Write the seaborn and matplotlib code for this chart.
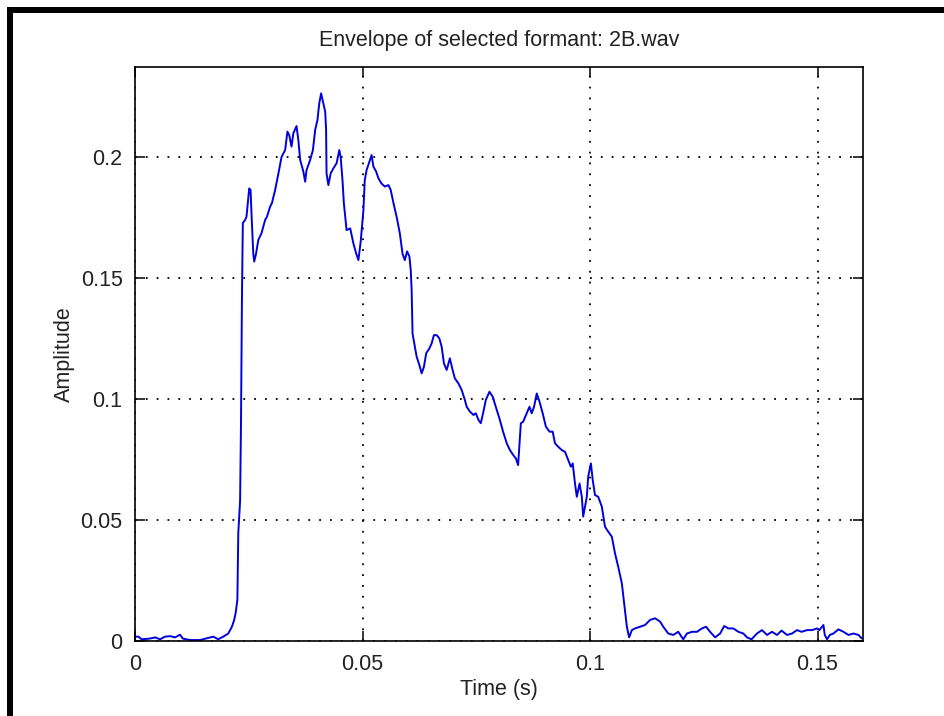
import matplotlib
matplotlib.use("Agg")
import matplotlib.pyplot as plt
from matplotlib.patches import Rectangle
import seaborn as sns
import pandas as pd

# Envelope samples: time (s) and amplitude
time_s = [
    0.0, 0.00073, 0.00147, 0.0033, 0.0044, 0.0055, 0.0066, 0.0077, 0.0088, 0.0099,
    0.0105, 0.0121, 0.0143, 0.0158, 0.0172, 0.0183, 0.0194, 0.0205, 0.0213, 0.0218,
    0.0221, 0.0225, 0.0227, 0.0231, 0.0233, 0.0235, 0.0237, 0.0242, 0.0245, 0.0251,
    0.0254, 0.0256, 0.0260, 0.0262, 0.0266, 0.0271, 0.0278, 0.0286, 0.0290, 0.0297,
    0.0301, 0.0308, 0.0315, 0.0322, 0.0330, 0.0335, 0.0339, 0.0344, 0.0348, 0.0355,
    0.0359, 0.0363, 0.0370, 0.0374, 0.0377, 0.0385, 0.0391, 0.0396, 0.0401, 0.0405,
    0.0409, 0.0413, 0.0418, 0.0420, 0.0421, 0.0425, 0.0430, 0.0436, 0.0443, 0.0449,
    0.0452, 0.0456, 0.0459, 0.0465, 0.0473, 0.0480, 0.0486, 0.0491, 0.0496, 0.0502,
    0.0505, 0.0509, 0.0514, 0.0520, 0.0524, 0.0530, 0.0535, 0.0542, 0.0549, 0.0557,
    0.0562, 0.0568, 0.0575, 0.0582, 0.0588, 0.0593, 0.0598, 0.0603, 0.0606, 0.0608,
    0.0610, 0.0615, 0.0619, 0.0625, 0.0630, 0.0635, 0.0640, 0.0647, 0.0652, 0.0657,
    0.0663, 0.0669, 0.0674, 0.0679, 0.0685, 0.0692, 0.0698, 0.0703, 0.0711, 0.0718,
    0.0725, 0.0729, 0.0736, 0.0744, 0.0749, 0.0755, 0.0760, 0.0765, 0.0771, 0.0779,
    0.0786, 0.0793, 0.0802, 0.0809, 0.0817, 0.0824, 0.0831, 0.0837, 0.0842, 0.0845,
    0.0848, 0.0853, 0.0861, 0.0867, 0.0872, 0.0877, 0.0883, 0.0889, 0.0896, 0.0903,
    0.0911, 0.0918, 0.0923, 0.0930, 0.0938, 0.0945, 0.0952, 0.0958, 0.0962, 0.0967,
    0.0971, 0.0977, 0.0982, 0.0985, 0.0993, 0.0996, 0.1002, 0.1006, 0.1011, 0.1018,
    0.1026, 0.1033, 0.1040, 0.1048, 0.1055, 0.1062, 0.1070, 0.1075, 0.1081, 0.1086,
    0.1092, 0.1099, 0.1110, 0.1121, 0.1132, 0.1143, 0.1154, 0.1161, 0.1172, 0.1183,
    0.1194, 0.1205, 0.1213, 0.1224, 0.1235, 0.1246, 0.1255, 0.1264, 0.1275, 0.1286,
    0.1295, 0.1304, 0.1315, 0.1326, 0.1337, 0.1345, 0.1355, 0.1367, 0.1378, 0.1389,
    0.1400, 0.1411, 0.1421, 0.1433, 0.1444, 0.1455, 0.1465, 0.1477, 0.1488, 0.1499,
    0.1504, 0.1513, 0.1516, 0.1521, 0.1527, 0.1535, 0.1546, 0.1557, 0.1568, 0.1579,
    0.1590, 0.1597,
]
amplitude = [
    0.0018, 0.0018, 0.0007, 0.0010, 0.0015, 0.0007, 0.0018, 0.0020, 0.0015, 0.0026,
    0.0010, 0.0004, 0.0004, 0.0011, 0.0018, 0.0007, 0.0018, 0.0031, 0.0059, 0.0087,
    0.0114, 0.0169, 0.0446, 0.0580, 0.0910, 0.1410, 0.1727, 0.1740, 0.1753, 0.1870,
    0.1864, 0.1767, 0.1600, 0.1568, 0.1600, 0.1657, 0.1685, 0.1740, 0.1753, 0.1795,
    0.1810, 0.1864, 0.1930, 0.2000, 0.2029, 0.2105, 0.2090, 0.2043, 0.2098, 0.2128,
    0.2070, 0.1988, 0.1940, 0.1898, 0.1946, 0.1988, 0.2029, 0.2112, 0.2153, 0.2222,
    0.2263, 0.2229, 0.2188, 0.2112, 0.1932, 0.1884, 0.1932, 0.1953, 0.1974, 0.2029,
    0.2000, 0.1905, 0.1810, 0.1698, 0.1705, 0.1643, 0.1602, 0.1574, 0.1650, 0.1780,
    0.1905, 0.1946, 0.1974, 0.2008, 0.1960, 0.1940, 0.1912, 0.1890, 0.1878, 0.1884,
    0.1864, 0.1810, 0.1753, 0.1685, 0.1600, 0.1574, 0.1610, 0.1590, 0.1533, 0.1450,
    0.1270, 0.1216, 0.1175, 0.1140, 0.1106, 0.1133, 0.1189, 0.1209, 0.1230, 0.1264,
    0.1264, 0.1250, 0.1216, 0.1147, 0.1120, 0.1168, 0.1120, 0.1085, 0.1064, 0.1037,
    0.0996, 0.0968, 0.0948, 0.0934, 0.0941, 0.0913, 0.0900, 0.0941, 0.0996, 0.1030,
    0.1010, 0.0968, 0.0913, 0.0865, 0.0817, 0.0789, 0.0769, 0.0755, 0.0727, 0.0817,
    0.0900, 0.0906, 0.0941, 0.0968, 0.0941, 0.0968, 0.1023, 0.0989, 0.0941, 0.0886,
    0.0865, 0.0865, 0.0817, 0.0803, 0.0789, 0.0782, 0.0748, 0.0720, 0.0734, 0.0651,
    0.0596, 0.0651, 0.0596, 0.0514, 0.0596, 0.0679, 0.0734, 0.0665, 0.0603, 0.0596,
    0.0555, 0.0472, 0.0452, 0.0431, 0.0362, 0.0307, 0.0238, 0.0155, 0.0059, 0.0015,
    0.0045, 0.0052, 0.0059, 0.0066, 0.0087, 0.0094, 0.0080, 0.0059, 0.0031, 0.0025,
    0.0038, 0.0007, 0.0031, 0.0038, 0.0038, 0.0052, 0.0059, 0.0038, 0.0015, 0.0031,
    0.0062, 0.0052, 0.0052, 0.0038, 0.0031, 0.0015, 0.0007, 0.0031, 0.0045, 0.0025,
    0.0038, 0.0025, 0.0043, 0.0025, 0.0031, 0.0045, 0.0038, 0.0045, 0.0045, 0.0052,
    0.0045, 0.0066, 0.0025, 0.0007, 0.0025, 0.0031, 0.0048, 0.0038, 0.0025, 0.0031,
    0.0025, 0.0011,
]
x_ticks = [0, 0.05, 0.1, 0.15]
x_tick_labels = ["0", "0.05", "0.1", "0.15"]
y_ticks = [0, 0.05, 0.1, 0.15, 0.2]
y_tick_labels = ["0", "0.05", "0.1", "0.15", "0.2"]

sns.set_theme(style="white")
plt.rcParams["font.family"] = ["Liberation Sans", "DejaVu Sans"]

W, H = 944, 716
fig = plt.figure(figsize=(W / 100, H / 100), dpi=100, facecolor="white")
ax = fig.add_axes([135 / W, 1 - 641 / H, (863 - 135) / W, (641 - 67) / H])

df = pd.DataFrame({"t": time_s, "a": amplitude})
sns.lineplot(data=df, x="t", y="a", ax=ax, color="#0000dd", linewidth=1.4,
             sort=False, estimator=None)

ax.set_xlim(0, 0.16)
ax.set_ylim(0, 0.2372)
ax.set_xticks(x_ticks)
ax.set_xticklabels(x_tick_labels)
ax.set_yticks(y_ticks)
ax.set_yticklabels(y_tick_labels)

ax.grid(True, color="black", linestyle=(0, (1, 5)), linewidth=1.3)
ax.set_axisbelow(True)
for sp in ax.spines.values():
    sp.set_visible(True)
    sp.set_color("black")
    sp.set_linewidth(1.2)

ax.tick_params(axis="both", which="major", direction="in", length=7, width=1.1,
               color="black", top=True, right=True, bottom=True, left=True,
               labelsize=15.5, labelcolor="#222222")
ax.tick_params(axis="x", pad=9)
ax.tick_params(axis="y", pad=9)

ax.set_title("Envelope of selected formant: 2B.wav", fontsize=15.5, pad=15,
             color="#222222")
ax.set_xlabel("Time (s)", fontsize=15.5, color="#222222", labelpad=3)
ax.set_ylabel("Amplitude", fontsize=15.5, color="#222222", labelpad=4)

# Black frame along the top and left edges of the canvas
fig.add_artist(Rectangle((7 / W, 1 - 13 / H), 1 - 7 / W, 6 / H,
                         transform=fig.transFigure, color="black", lw=0))
fig.add_artist(Rectangle((7 / W, 0), 6 / W, 1 - 7 / H,
                         transform=fig.transFigure, color="black", lw=0))

fig.savefig("out.png", dpi=100, facecolor="white")
